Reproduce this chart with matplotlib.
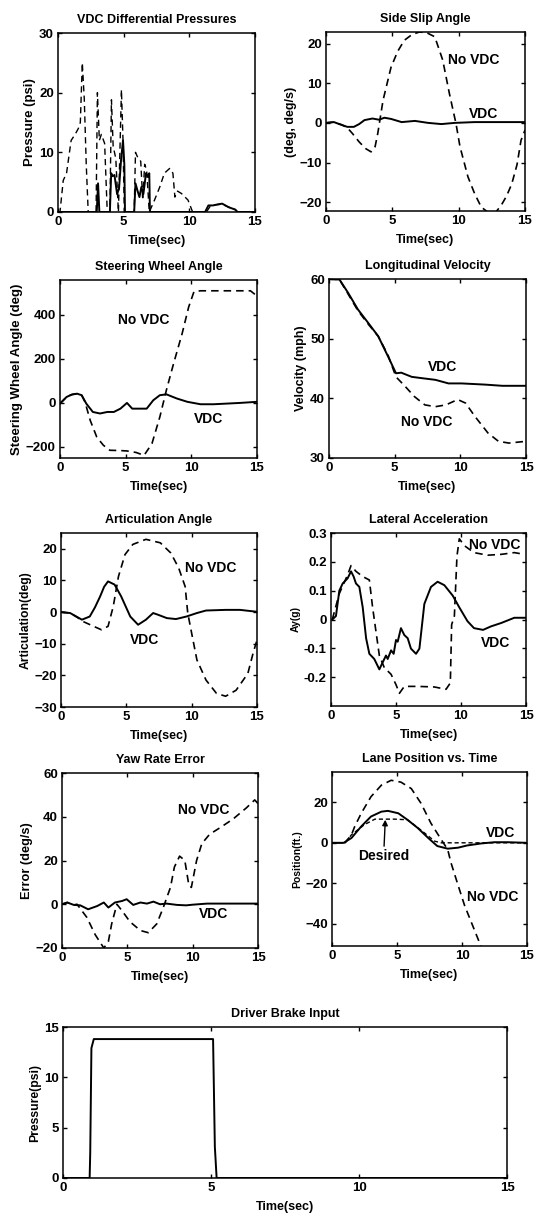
import matplotlib
matplotlib.use('Agg')
from matplotlib import pyplot as plt

plt.rcParams['font.family'] = ['Liberation Sans', 'DejaVu Sans']
plt.rcParams['font.weight'] = 'bold'
plt.rcParams['axes.titleweight'] = 'bold'
plt.rcParams['axes.labelweight'] = 'bold'

# VDC differential pressures
dp_t = [0, 0.15, 0.4, 0.65, 1.0, 1.3, 1.55, 1.7, 1.85, 2.0, 2.15, 2.3, 2.9, 3.0, 3.15, 3.3, 3.55, 3.75,
        3.95, 4.07, 4.2, 4.4, 4.6, 4.83, 4.95, 5.05, 5.8, 5.9, 6.1, 6.3, 6.45, 6.6, 6.75, 6.95, 7.35,
        7.75, 8.1, 8.5, 8.75, 8.9, 9.1, 9.4, 9.9, 10.25, 11.3, 11.6, 12.0, 12.5, 13.0, 13.5, 13.7, 15]
dp_dash = [0, 0, 5.3, 6.5, 12, 13, 14, 15, 25, 19, 8, 0, 0, 20, 12, 13, 11.5, 0,
           0, 18.8, 11, 9, 0, 20.5, 12, 0, 0, 10, 9, 8.5, 2, 8, 7, 0, 2,
           4.2, 6.5, 7.3, 6.5, 2.5, 3.5, 3.1, 2, 0, 0, 1.0, 1.2, 1.3, 0.8, 0.4, 0, 0]
ds_t = [0, 2.95, 3.05, 3.15, 3.95, 4.05, 4.15, 4.3, 4.5, 4.65, 4.8, 4.95, 5.05, 5.1, 5.8, 5.9, 6.05,
        6.2, 6.35, 6.5, 6.7, 6.85, 6.95, 7.0, 11.2, 11.45, 11.8, 12.2, 12.5, 13.0, 13.5, 13.65, 15]
ds_solid = [0, 0, 4.8, 0, 0, 6.5, 6.0, 6.2, 3.0, 4.0, 8.7, 12, 8, 0, 0, 4.8, 3.6,
            2.5, 4.2, 3.0, 6.5, 5.9, 6.5, 0, 0, 1.1, 1.1, 1.3, 1.4, 0.8, 0.4, 0, 0]

# side slip angle
ss_t = [0, 0.6, 1.0, 1.6, 2.1, 2.5, 2.9, 3.5, 4.0, 4.4, 4.9, 5.7, 6.7, 7.7, 8.7, 9.7, 11.2, 15]
ss_vdc = [0, 0.2, -0.3, -1.0, -1.0, -0.3, 0.7, 1.1, 0.8, 1.3, 1.0, 0.2, 0.5, 0, -0.3, 0, 0.2, 0.2]
sn_t = [0, 0.6, 1.2, 1.6, 2.0, 2.5, 3.0, 3.4, 3.7, 3.9, 4.3, 4.9, 5.4, 5.9, 6.5, 7.05, 7.6, 8.2,
        8.8, 9.3, 9.8, 10.1, 10.7, 11.2, 11.7, 12.2, 12.7, 13.2, 13.6, 14.0, 14.4, 14.7, 15]
sn_novdc = [0, 0.2, -0.5, -1.2, -2.7, -4.8, -6.5, -7.3, -6, -2.7, 5.7, 14, 18, 20.8, 22.3, 22.9, 22.7, 21.7,
            15.8, 7.4, -0.2, -6, -13.6, -17.8, -21.2, -22.5, -22.9, -20.8, -18.5, -15.4, -10.5, -4.4, -1.8]

# steering wheel angle
sw_t = [0, 0.5, 0.9, 1.3, 1.65, 2.0, 2.5, 3.05, 3.6, 4.1, 4.6, 5.1, 5.5, 6.0, 6.6, 7.1, 7.6, 8.1,
        8.9, 9.7, 10.7, 11.7, 12.7, 13.7, 15]
sw_vdc = [-3, 27, 38, 42, 35, -3, -41, -48, -41, -41, -26, 0, -26, -26, -26, 12, 35, 39,
          20, 5, -6, -6, -3, 0, 5]
nw_t = [0, 0.5, 0.9, 1.3, 1.65, 1.9, 2.3, 2.8, 3.3, 3.8, 4.5, 5.1, 5.8, 6.4, 7.0, 7.6, 8.1, 8.65,
        9.3, 9.8, 10.2, 10.7, 12.0, 13.5, 14.5, 14.9, 15]
nw_novdc = [-3, 27, 38, 42, 35, 5, -79, -155, -192, -215, -216, -218, -225, -238, -185, -64, 58, 179,
            315, 436, 505, 509, 509, 509, 509, 490, 480]

# longitudinal velocity
lv_t = [0, 0.8, 1.45, 2.2, 3.0, 3.75, 4.5, 5.1, 5.5, 6.3, 7.0, 8.1, 9.1, 10.1, 11.9, 13.2, 15]
lv_vdc = [60, 59.9, 57.7, 54.9, 52.6, 50.4, 47, 44.2, 44.3, 43.6, 43.4, 43.1, 42.5, 42.5, 42.3, 42.1, 42.1]
nv_t = [0, 0.8, 1.45, 2.2, 3.0, 3.75, 4.5, 5.1, 5.8, 6.5, 7.3, 8.1, 8.9, 9.8, 10.4, 11.1, 12.1,
        12.9, 13.7, 15]
nv_novdc = [60, 59.9, 57.5, 54.7, 52.4, 50.4, 47.2, 43.6, 42, 40.3, 38.9, 38.6, 38.9, 39.8, 39.2, 37, 34.2,
            32.8, 32.5, 32.8]

# articulation angle
ar_t = [0, 0.7, 1.6, 2.2, 2.6, 3.0, 3.3, 3.6, 4.1, 4.6, 5.3, 5.9, 6.5, 7.05, 7.4, 8.1, 8.8, 9.6,
        10.4, 11.1, 12.6, 13.7, 15]
ar_vdc = [0, -0.3, -2.4, -1.4, 1.5, 5, 8, 9.7, 8.7, 5, -1.4, -4, -2.4, -0.3, -0.8, -1.9, -2.2, -1.4,
          -0.3, 0.5, 0.7, 0.7, 0.1]
na_t = [0, 0.7, 1.3, 1.7, 2.5, 3.1, 3.6, 4.0, 4.4, 4.9, 5.5, 6.5, 7.6, 8.4, 9.0, 9.5, 9.7, 10.0,
        10.4, 11.1, 11.9, 12.6, 13.4, 14.3, 14.7, 15]
na_novdc = [0, -0.3, -1.8, -3, -4.5, -5.6, -4.5, 1.8, 11.3, 18.2, 21.4, 23, 21.9, 18.7, 14, 8.1, -0.3, -6.7,
            -15.1, -21.5, -25.7, -26.6, -24.7, -19.4, -13, -8.8]

# lateral acceleration
la_t = [0.1, 0.38, 0.64, 0.9, 1.28, 1.54, 1.74, 1.92, 2.18, 2.44, 2.7, 2.95, 3.33, 3.72, 3.97, 4.23,
        4.36, 4.62, 4.82, 5.0, 5.13, 5.38, 5.64, 5.9, 6.15, 6.54, 6.8, 7.18, 7.69, 8.2, 8.72, 9.36,
        9.87, 10.5, 11.0, 11.7, 12.3, 13.1, 14.1, 15]
la_vdc = [0, 0.012, 0.1, 0.125, 0.143, 0.167, 0.149, 0.125, 0.113, 0.042, -0.065, -0.119, -0.137, -0.173,
          -0.149, -0.125, -0.137, -0.107, -0.119, -0.071, -0.077, -0.03, -0.054, -0.065, -0.101, -0.119,
          -0.101, 0.054, 0.113, 0.131, 0.119, 0.083, 0.042, -0.006, -0.03, -0.036, -0.024, -0.012, 0.006, 0.006]
nla_t = [0.1, 0.64, 1.28, 1.54, 1.92, 2.44, 2.95, 3.2, 3.46, 3.72, 4.1, 4.62, 5.0, 5.26, 5.64, 6.67,
         7.95, 8.85, 9.18, 9.28, 9.49, 9.69, 9.87, 10.26, 11.0, 12.05, 13.1, 14.1, 14.87]
nla_novdc = [0, 0.09, 0.155, 0.187, 0.167, 0.149, 0.137, 0.042, -0.042, -0.125, -0.167, -0.19, -0.226,
             -0.256, -0.232, -0.232, -0.234, -0.242, -0.22, -0.018, 0.012, 0.22, 0.28, 0.256, 0.232,
             0.223, 0.226, 0.232, 0.226]

# yaw rate error
ye_t = [0, 0.4, 0.9, 1.4, 2.0, 2.7, 3.2, 3.55, 4.05, 4.6, 4.95, 5.45, 6.0, 6.5, 7.0, 7.5, 8.0, 8.8,
        9.5, 10.0, 11.1, 15]
ye_vdc = [0, 0.8, -0.3, -0.5, -2.3, -0.8, 0.8, -1.5, 0.8, 1.5, 2.3, -0.3, 0.8, 0.3, 1.2, 0, 0.3, -0.3,
          -0.5, -0.2, 0.3, 0.3]
ny_t = [0, 0.4, 0.9, 1.15, 1.9, 2.55, 3.2, 3.55, 3.8, 4.2, 4.6, 5.2, 6.0, 6.6, 7.25, 7.75, 8.3, 8.6,
        9.0, 9.4, 9.7, 9.9, 10.3, 10.7, 11.3, 12.1, 13.1, 14.1, 14.75, 15]
ny_novdc = [0, 0.8, -0.3, 0, -6, -14, -20, -17, -9, 0, -3, -8, -12, -13, -9, -1.5, 7.7, 17,
            22, 20, 9, 7.7, 20, 27.7, 32, 35, 39, 44, 47.7, 46]

# lane position
lp_t = [0, 0.9, 1.5, 2.25, 3.0, 3.8, 4.3, 5.1, 5.8, 6.6, 7.4, 8.1, 8.9, 9.7, 10.4, 11.5, 12.5, 13.5, 15]
lp_vdc = [0, 0, 2.4, 8.1, 13, 15.4, 15.8, 14.6, 11.4, 7.3, 2.4, -1.6, -2.9, -2.4, -1.3, -0.3, 0.3, 0.3, 0]
des_t = [0, 1.0, 1.5, 2.5, 3.3, 4.8, 5.8, 6.8, 7.9, 8.4, 15]
des_pos = [0, 0, 4, 9, 11.7, 11.7, 11.4, 6.5, 0.8, 0, 0]
nl_t = [0, 1.0, 1.5, 1.75, 2.25, 3.0, 3.8, 4.55, 5.3, 6.1, 6.85, 7.6, 8.4, 8.9, 9.15, 9.7, 10.2, 10.7, 11.45]
nl_novdc = [0, 0, 4, 8.1, 14.6, 22.8, 28.5, 30.9, 30, 26.8, 19.5, 9.8, 1.6, -3.3, -9.8, -21, -31, -39, -51]

# driver brake input
br_t = [0, 0.9, 0.92, 0.96, 1.04, 4.9, 5.07, 5.13, 5.19, 15]
br_p = [0, 0, 2.5, 12.9, 13.8, 13.8, 13.8, 3.1, 0, 0]

W, H = 537, 1216
fig = plt.figure(figsize=(W / 100, H / 100), dpi=100)


def box(l, r, t, b):
    return [l / W, 1 - b / H, (r - l) / W, (b - t) / H]


DASH = (0, (4.5, 3))


def setup(ax, title, ylabel, ylim, yticks, ylsize=9, ticksize=9.5):
    ax.set_xlim(0, 15)
    ax.set_ylim(*ylim)
    ax.set_yticks(yticks)
    ax.set_xticks([0, 5, 10, 15])
    ax.tick_params(direction='in', top=True, right=True, length=3, width=1,
                   labelsize=ticksize, pad=3)
    for s in ax.spines.values():
        s.set_linewidth(1.1)
    ax.set_title(title, fontsize=9, pad=7)
    ax.set_ylabel(ylabel, fontsize=ylsize, labelpad=2)
    ax.set_xlabel('Time(sec)', fontsize=9, labelpad=5)


def txt(ax, x, y, s):
    ax.text(x, y, s, fontsize=10, ha='left', va='center')


ax1 = fig.add_axes(box(58, 255, 33, 212))
ax1.plot(dp_t, dp_dash, color='k', lw=1.0, ls=DASH)
ax1.plot(ds_t, ds_solid, color='k', lw=1.4)
setup(ax1, 'VDC Differential Pressures', 'Pressure (psi)', (0, 30), [0, 10, 20, 30], ylsize=9.5)

ax2 = fig.add_axes(box(326, 525, 32, 211))
ax2.plot(sn_t, sn_novdc, color='k', lw=1.2, ls=DASH)
ax2.plot(ss_t, ss_vdc, color='k', lw=1.4)
setup(ax2, 'Side Slip Angle', '(deg, deg/s)', (-22.2, 22.9), [-20, -10, 0, 10, 20])
txt(ax2, 9.2, 15.8, 'No VDC')
txt(ax2, 10.8, 2.3, 'VDC')

ax3 = fig.add_axes(box(60, 257, 280, 458))
ax3.plot(nw_t, nw_novdc, color='k', lw=1.2, ls=DASH)
ax3.plot(sw_t, sw_vdc, color='k', lw=1.4)
setup(ax3, 'Steering Wheel Angle', 'Steering Wheel Angle (deg)', (-250, 558), [-200, 0, 200, 400],
      ylsize=9.5)
txt(ax3, 4.45, 376, 'No VDC')
txt(ax3, 10.2, -71, 'VDC')

ax4 = fig.add_axes(box(329, 526, 279, 458))
ax4.plot(nv_t, nv_novdc, color='k', lw=1.2, ls=DASH)
ax4.plot(lv_t, lv_vdc, color='k', lw=1.4)
setup(ax4, 'Longitudinal Velocity', 'Velocity (mph)', (30, 60), [30, 40, 50, 60])
txt(ax4, 7.55, 45.3, 'VDC')
txt(ax4, 5.5, 36.1, 'No VDC')

ax5 = fig.add_axes(box(61, 257, 533, 707))
ax5.plot(na_t, na_novdc, color='k', lw=1.2, ls=DASH)
ax5.plot(ar_t, ar_vdc, color='k', lw=1.4)
setup(ax5, 'Articulation Angle', 'Articulation(deg)', (-30, 25), [-30, -20, -10, 0, 10, 20], ylsize=8.7)
txt(ax5, 9.47, 14, 'No VDC')
txt(ax5, 5.27, -8.8, 'VDC')

ax6 = fig.add_axes(box(331, 526, 533, 706))
ax6.plot(nla_t, nla_novdc, color='k', lw=1.2, ls=DASH)
ax6.plot(la_t, la_vdc, color='k', lw=1.4)
setup(ax6, 'Lateral Acceleration', 'Ay(g)', (-0.3, 0.3), [-0.2, -0.1, 0, 0.1, 0.2, 0.3], ylsize=7.5)
ax6.set_yticklabels(['-0.2', '-0.1', '0', '0.1', '0.2', '0.3'])
txt(ax6, 10.6, 0.258, 'No VDC')
txt(ax6, 11.5, -0.083, 'VDC')

ax7 = fig.add_axes(box(62, 258, 773, 948))
ax7.plot(ny_t, ny_novdc, color='k', lw=1.2, ls=DASH)
ax7.plot(ye_t, ye_vdc, color='k', lw=1.4)
setup(ax7, 'Yaw Rate Error', 'Error (deg/s)', (-20, 60), [-20, 0, 20, 40, 60], ylsize=9.2)
txt(ax7, 8.9, 43, 'No VDC')
txt(ax7, 10.5, -4.6, 'VDC')

ax8 = fig.add_axes(box(332, 527, 772, 946))
ax8.plot(nl_t, nl_novdc, color='k', lw=1.2, ls=DASH)
ax8.plot(des_t, des_pos, color='k', lw=1.0, ls=(0, (3, 2)))
ax8.plot(lp_t, lp_vdc, color='k', lw=1.4)
setup(ax8, 'Lane Position vs. Time', 'Position(ft.)', (-51, 35), [-40, -20, 0, 20], ylsize=7.5)
txt(ax8, 11.85, 4.9, 'VDC')
txt(ax8, 10.4, -26.8, 'No VDC')
ax8.annotate('Desired', xy=(4.1, 11.4), xytext=(2.0, -6.5), fontsize=10, va='center',
             arrowprops=dict(arrowstyle='-|>', color='k', lw=1.0, shrinkA=0, shrinkB=0,
                             mutation_scale=8))

ax9 = fig.add_axes(box(63, 507, 1027, 1178))
ax9.plot(br_t, br_p, color='k', lw=1.4)
setup(ax9, 'Driver Brake Input', 'Pressure(psi)', (0, 15), [0, 5, 10, 15], ylsize=8.8, ticksize=9.5)

fig.savefig('out.png', dpi=100)
